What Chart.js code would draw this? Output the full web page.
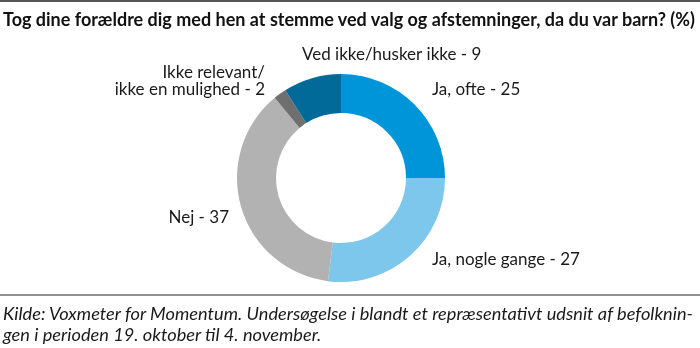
<!DOCTYPE html>
<html>
<head>
<meta charset="utf-8">
<script src="https://cdn.jsdelivr.net/npm/chart.js@4/dist/chart.umd.min.js"></script>
<style>
  html, body { margin: 0; padding: 0; background: #fff; }
  #wrap { position: relative; width: 700px; height: 348px; overflow: hidden; }
  #topRule { position: absolute; left: 0; top: 0; width: 700px; height: 2px; background: #555; }
  #title {
    position: absolute; left: 3px; top: 9px; white-space: nowrap;
    font: bold 19px/19px Lato, sans-serif; color: #111;
    transform-origin: left top;
  }
  #bottomRule { position: absolute; left: 0; top: 294px; width: 700px; height: 2px; background: #8f8f8f; }
  #source {
    position: absolute; left: 3px; top: 303px; white-space: nowrap;
    font: italic 17px/21px Lato, sans-serif; color: #1a1a1a;
    transform-origin: left top;
  }
  #chart { position: absolute; left: 0; top: 0; }
</style>
</head>
<body>
<div id="wrap">
  <canvas id="chart" width="700" height="348"></canvas>
  <div id="topRule"></div>
  <div id="title">Tog dine forældre dig med hen at stemme ved valg og afstemninger, da du var barn? (%)</div>
  <div id="bottomRule"></div>
  <div id="source">Kilde: Voxmeter for Momentum. Undersøgelse i blandt et repræsentativt udsnit af befolknin-<br>gen i perioden 19. oktober til 4. november.</div>
</div>
<script>
// Survey answers, clockwise from 12 o'clock
const answers = ['Ja, ofte', 'Ja, nogle gange', 'Nej', 'Ikke relevant/\nikke en mulighed', 'Ved ikke/husker ikke'];
const shares = [25, 27, 37, 2, 9];
const sliceColors = ['#0095d9', '#7dc6ec', '#b2b2b2', '#6f6f6f', '#026a99'];

// Label anchors relative to the ring centre: [dx, dy of first baseline, align]
const labelSpots = [
    [91, -83, 'left'],
    [91, 87, 'left'],
    [-112, 45, 'right'],
    [-76, -100, 'right'],
    [-39, -118, 'left']
];

// fit the condensed headline and source text to the page width
function squeeze(id, target) {
    const el = document.getElementById(id);
    const w = el.getBoundingClientRect().width;
    el.style.transform = 'scaleX(' + (target / w) + ')';
}
squeeze('title', 692);
squeeze('source', 690);

const sliceLabels = {
    id: 'sliceLabels',
    afterDraw(chart) {
        const arc = chart.getDatasetMeta(0).data[0];
        const ctx = chart.ctx;
        ctx.save();
        ctx.font = '17px Lato, sans-serif';
        ctx.fillStyle = '#1a1a1a';
        ctx.textBaseline = 'alphabetic';
        answers.forEach((name, i) => {
            const [dx, dy, align] = labelSpots[i];
            ctx.textAlign = align;
            const lines = (name + ' - ' + shares[i]).split('\n');
            lines.forEach((line, j) => {
                ctx.fillText(line, arc.x + dx, arc.y + dy + j * 17);
            });
        });
        ctx.restore();
    }
};

new Chart(document.getElementById('chart'), {
    type: 'doughnut',
    data: {
        labels: answers,
        datasets: [{
            data: shares,
            backgroundColor: sliceColors,
            borderWidth: 0
        }]
    },
    options: {
        responsive: false,
        animation: false,
        cutout: '62.5%',
        layout: { padding: { top: 74, bottom: 66, left: 237, right: 255 } },
        plugins: { legend: { display: false }, tooltip: { enabled: false } }
    },
    plugins: [sliceLabels]
});
</script>
</body>
</html>
